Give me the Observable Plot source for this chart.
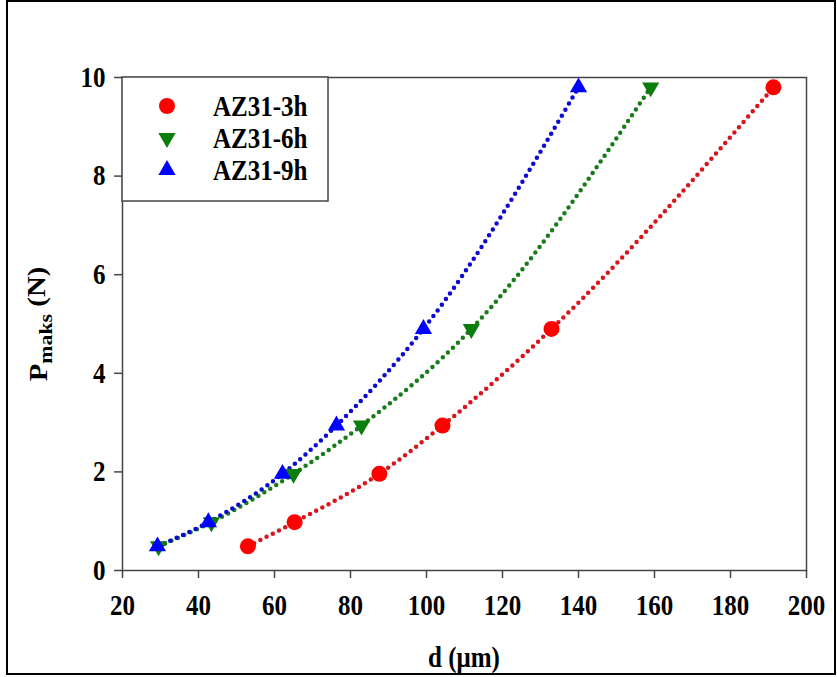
<!DOCTYPE html>
<html><head><meta charset="utf-8">
<script src="https://cdn.jsdelivr.net/npm/d3@7"></script>
<script src="https://cdn.jsdelivr.net/npm/@observablehq/plot@0.6"></script>
<style>
body{margin:0;background:#fff;}
#wrap{position:relative;width:837px;height:677px;overflow:hidden;}
#wrap svg{position:absolute;left:0;top:0;}
#wrap svg text{font-family:'Liberation Serif','Times New Roman',serif;font-weight:bold;}
#border{position:absolute;left:6px;top:0px;width:830px;height:675px;border:2px solid #000;box-sizing:border-box;z-index:2;pointer-events:none;}
</style></head><body><div id="wrap"><div id="border"></div></div>
<script>
// Data
const loads = [0.49, 0.98, 1.96, 2.94, 4.9, 9.8];           // P_maks (N)
const seriesNames = ["AZ31-3h", "AZ31-6h", "AZ31-9h"];
const d3h = [53.0, 65.3, 87.6, 104.2, 132.9, 191.3];        // d (µm)
const d6h = [29.5, 43.4, 65.0, 82.9, 111.8, 159.0];
const d9h = [29.2, 42.6, 62.1, 76.3, 99.2, 140.0];
const xTicks = [20, 40, 60, 80, 100, 120, 140, 160, 180, 200];
const yTicks = [0, 2, 4, 6, 8, 10];
const markerColors = ["#ff0000", "#0a7d0a", "#0000ff"];
const lineColors = ["#d8141c", "#197a19", "#0a0ad0"];

const allD = [d3h, d6h, d9h];
const rows = seriesNames.flatMap((s, i) => allD[i].map((d, j) => ({s, i, d, P: loads[j]})));
const bySeries = i => rows.filter(r => r.i === i);

const font = "'Liberation Serif', 'Times New Roman', serif";
const SY = 1.15; // text in the reference is slightly stretched vertically
const rC = 8, rT = 6.4;

const chart = Plot.plot({
  width: 837, height: 677,
  marginLeft: 122, marginRight: 31, marginTop: 77, marginBottom: 107,
  style: {fontFamily: font, fontWeight: "bold", fontSize: "25px", color: "#000", background: "transparent"},
  x: {domain: [20, 200]},
  y: {domain: [0, 10]},
  marks: [
    Plot.frame({stroke: "#444", strokeWidth: 1.5}),
    Plot.axisX({ticks: xTicks, tickSize: 8, tickPadding: 16, label: null, stroke: "#444", strokeWidth: 1.5}),
    Plot.axisY({ticks: yTicks, tickSize: 8, tickPadding: 9, label: null, stroke: "#444", strokeWidth: 1.5}),
    ...[0, 1, 2].map(i => Plot.line(bySeries(i), {
      x: "d", y: "P", curve: "monotone-x",
      stroke: lineColors[i], strokeWidth: 4.5, strokeDasharray: "0 7", strokeLinecap: "round"
    })),
    Plot.dot(bySeries(0), {x: "d", y: "P", symbol: "circle", r: rC, fill: markerColors[0]}),
    Plot.dot(bySeries(1), {x: "d", y: "P", symbol: "triangle", r: rT, fill: markerColors[1], rotate: 180}),
    Plot.dot(bySeries(2), {x: "d", y: "P", symbol: "triangle", r: rT, fill: markerColors[2]})
  ]
});

const svg = d3.select(chart);
svg.selectAll("text").each(function() {
  const t = this.getAttribute("transform") || "";
  this.setAttribute("transform", `${t} scale(1,${SY})`);
});

// axis titles
svg.append("text")
  .attr("transform", `translate(464,657) scale(1,${SY})`)
  .attr("text-anchor", "middle").attr("dy", "0.35em")
  .style("font-size", "25px")
  .text("d (\u03bcm)");
const yl = svg.append("text")
  .attr("transform", `translate(38,324) rotate(-90) scale(${SY},1)`)
  .attr("text-anchor", "middle").attr("dy", "0.35em")
  .style("font-size", "25px");
yl.append("tspan").text("P");
yl.append("tspan").attr("dy", "0.3em").style("font-size", "19px").text("maks");
yl.append("tspan").attr("dy", "-0.3em").text(" (N)");

// legend box
const lg = svg.append("g");
lg.append("rect").attr("x", 122).attr("y", 77).attr("width", 206).attr("height", 124)
  .attr("fill", "#fff").attr("stroke", "#444").attr("stroke-width", 1.5);
const symbols = [d3.symbolCircle, d3.symbolTriangle, d3.symbolTriangle];
const sizes = [Math.PI * rC * rC, Math.PI * rT * rT, Math.PI * rT * rT];
seriesNames.forEach((name, i) => {
  const cy = 106 + i * 32;
  lg.append("path")
    .attr("d", d3.symbol(symbols[i], sizes[i])())
    .attr("transform", `translate(167,${cy})${i === 1 ? " rotate(180)" : ""}`)
    .attr("fill", markerColors[i]);
  lg.append("text")
    .attr("transform", `translate(213,${cy}) scale(1,${SY})`)
    .attr("dy", "0.35em")
    .attr("text-anchor", "start")
    .style("font-size", "25px")
    .text(name);
});

document.getElementById("wrap").prepend(chart);
</script>
</body></html>
